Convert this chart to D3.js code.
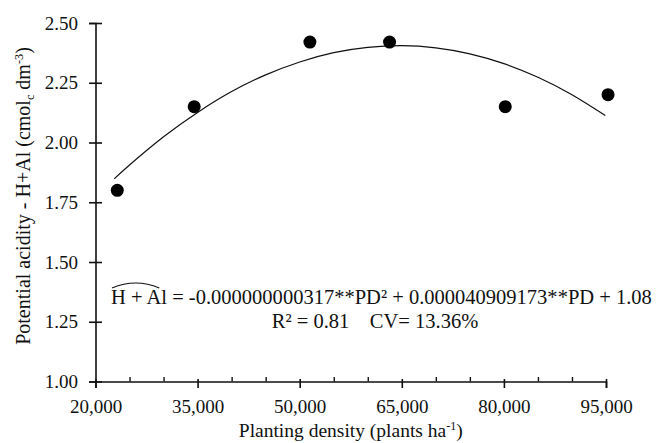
<!DOCTYPE html>
<html>
<head>
<meta charset="utf-8">
<script src="https://cdn.jsdelivr.net/npm/d3@7/dist/d3.min.js"></script>
<style>
  html, body { margin: 0; padding: 0; background: #fff; }
  svg { display: block; }
  text { font-family: "Liberation Serif", "Times New Roman", serif; fill: #111; }
</style>
</head>
<body>
<svg id="chart" width="660" height="443"></svg>
<script>
// ---- data ----
const densities = [23200, 34500, 51500, 63200, 80200, 95300];
const acidity   = [1.80, 2.15, 2.42, 2.42, 2.15, 2.20];

// fitted curve
const curveX = [22750, 25000, 30000, 35000, 40000, 45000, 50000, 55000, 60000, 65000, 70000, 75000, 80000, 85000, 90000, 94900];
const curveY = [1.848, 1.906, 2.024, 2.126, 2.213, 2.283, 2.337, 2.376, 2.398, 2.405, 2.396, 2.371, 2.330, 2.273, 2.200, 2.113];

const xTickValues = [20000, 35000, 50000, 65000, 80000, 95000];
const xTickLabels = ["20,000", "35,000", "50,000", "65,000", "80,000", "95,000"];
const xMinorTicks = [25000, 30000, 40000, 45000, 55000, 60000, 70000, 75000, 85000, 90000];
const yTickValues = [1.00, 1.25, 1.50, 1.75, 2.00, 2.25, 2.50];
const yTickLabels = ["1.00", "1.25", "1.50", "1.75", "2.00", "2.25", "2.50"];

const equationText = "= -0.000000000317**PD² + 0.000040909173**PD + 1.08";
const statsText = "R² = 0.81    CV= 13.36%";

// ---- layout ----
const svg = d3.select("#chart");
const x = d3.scaleLinear().domain([20000, 95000]).range([95.5, 606]);
const y = d3.scaleLinear().domain([1, 2.5]).range([381.5, 23]);

// y axis
const yAxis = svg.append("g")
  .attr("transform", `translate(${x(20000)},0)`)
  .call(d3.axisLeft(y).tickValues(yTickValues)
        .tickFormat((d, i) => yTickLabels[i]).tickSize(6.5).tickPadding(11));
yAxis.select(".domain").attr("stroke", "#111").attr("stroke-width", 1.6);
yAxis.selectAll(".tick line").attr("x1", 6.5).attr("stroke", "#111").attr("stroke-width", 1.6);
yAxis.selectAll(".tick text").attr("font-size", 19)
  .attr("font-family", "Liberation Serif, Times New Roman, serif").attr("fill", "#111");

// x axis minor ticks (upwards)
const xMinor = svg.append("g")
  .attr("transform", `translate(0,${y(1)})`)
  .call(d3.axisBottom(x).tickValues(xMinorTicks).tickFormat("").tickSize(-4.5));
xMinor.select(".domain").remove();
xMinor.selectAll(".tick line").attr("stroke", "#111").attr("stroke-width", 1.4);

// x axis major
const xAxis = svg.append("g")
  .attr("transform", `translate(0,${y(1)})`)
  .call(d3.axisBottom(x).tickValues(xTickValues)
        .tickFormat((d, i) => xTickLabels[i]).tickSize(6.5).tickPadding(12));
xAxis.select(".domain").attr("stroke", "#111").attr("stroke-width", 1.6);
xAxis.selectAll(".tick line").attr("y1", -2.5).attr("stroke", "#111").attr("stroke-width", 1.6);
xAxis.selectAll(".tick text").attr("font-size", 19)
  .attr("font-family", "Liberation Serif, Times New Roman, serif").attr("fill", "#111");

// fitted curve
const line = d3.line().x(d => x(d[0])).y(d => y(d[1])).curve(d3.curveNatural);
svg.append("path")
  .datum(curveX.map((v, i) => [v, curveY[i]]))
  .attr("d", line)
  .attr("fill", "none").attr("stroke", "#111").attr("stroke-width", 1.2);

// points
svg.append("g").selectAll("circle")
  .data(densities.map((v, i) => [v, acidity[i]]))
  .join("circle")
  .attr("cx", d => x(d[0])).attr("cy", d => y(d[1])).attr("r", 6.5)
  .attr("fill", "#000");

// axis titles
const xt = svg.append("text")
  .attr("x", (x(20000) + x(95000)) / 2).attr("y", 437)
  .attr("text-anchor", "middle").attr("font-size", 19.5);
xt.append("tspan").text("Planting density (plants ha");
xt.append("tspan").text("-1").attr("font-size", 12).attr("dy", -7);
xt.append("tspan").text(")").attr("dy", 7);

const yt = svg.append("text")
  .attr("transform", `translate(30,196) rotate(-90)`)
  .attr("text-anchor", "middle").attr("font-size", 18);
yt.append("tspan").text("Potential acidity - H+Al (cmol");
yt.append("tspan").text("c").attr("font-size", 11).attr("dy", 4);
yt.append("tspan").text(" dm").attr("dy", -4);
yt.append("tspan").text("-3").attr("font-size", 11).attr("dy", -7);
yt.append("tspan").text(")").attr("dy", 7);
// fit the title to the reference length (~298 px)
const ytLen = yt.node().getComputedTextLength();
const ytScale = 298 / ytLen;
yt.attr("font-size", 18 * ytScale);
yt.selectAll("tspan").each(function () {
  const s = d3.select(this);
  if (s.attr("font-size")) s.attr("font-size", +s.attr("font-size") * ytScale);
});

// equation
const eqStart = 111, eqEnd = 652, eqBase = 304;
const eq = svg.append("text").attr("x", eqStart).attr("y", eqBase).attr("font-size", 20);
eq.append("tspan").text("H + Al ");
eq.append("tspan").text(equationText);
let w = eq.node().getComputedTextLength();
const fs = 20 * (eqEnd - eqStart) / w;
eq.attr("font-size", fs);
const hatW = eq.node().getSubStringLength(0, 5);
const h0 = eqStart + 1, h1 = eqStart + hatW - 2, hm = (h0 + h1) / 2;
const hy = eqBase - fs * 0.78;
svg.append("path")
  .attr("d", `M${h0},${hy} Q${h0 + (hm - h0) * 0.5},${hy - 5} ${hm},${hy - 5} Q${hm + (h1 - hm) * 0.5},${hy - 5} ${h1},${hy}`)
  .attr("fill", "none").attr("stroke", "#111").attr("stroke-width", 1.1);

svg.append("text").attr("x", 375).attr("y", 328)
  .attr("text-anchor", "middle").attr("font-size", fs)
  .attr("xml:space", "preserve").style("white-space", "pre")
  .text(statsText);
</script>
</body>
</html>
